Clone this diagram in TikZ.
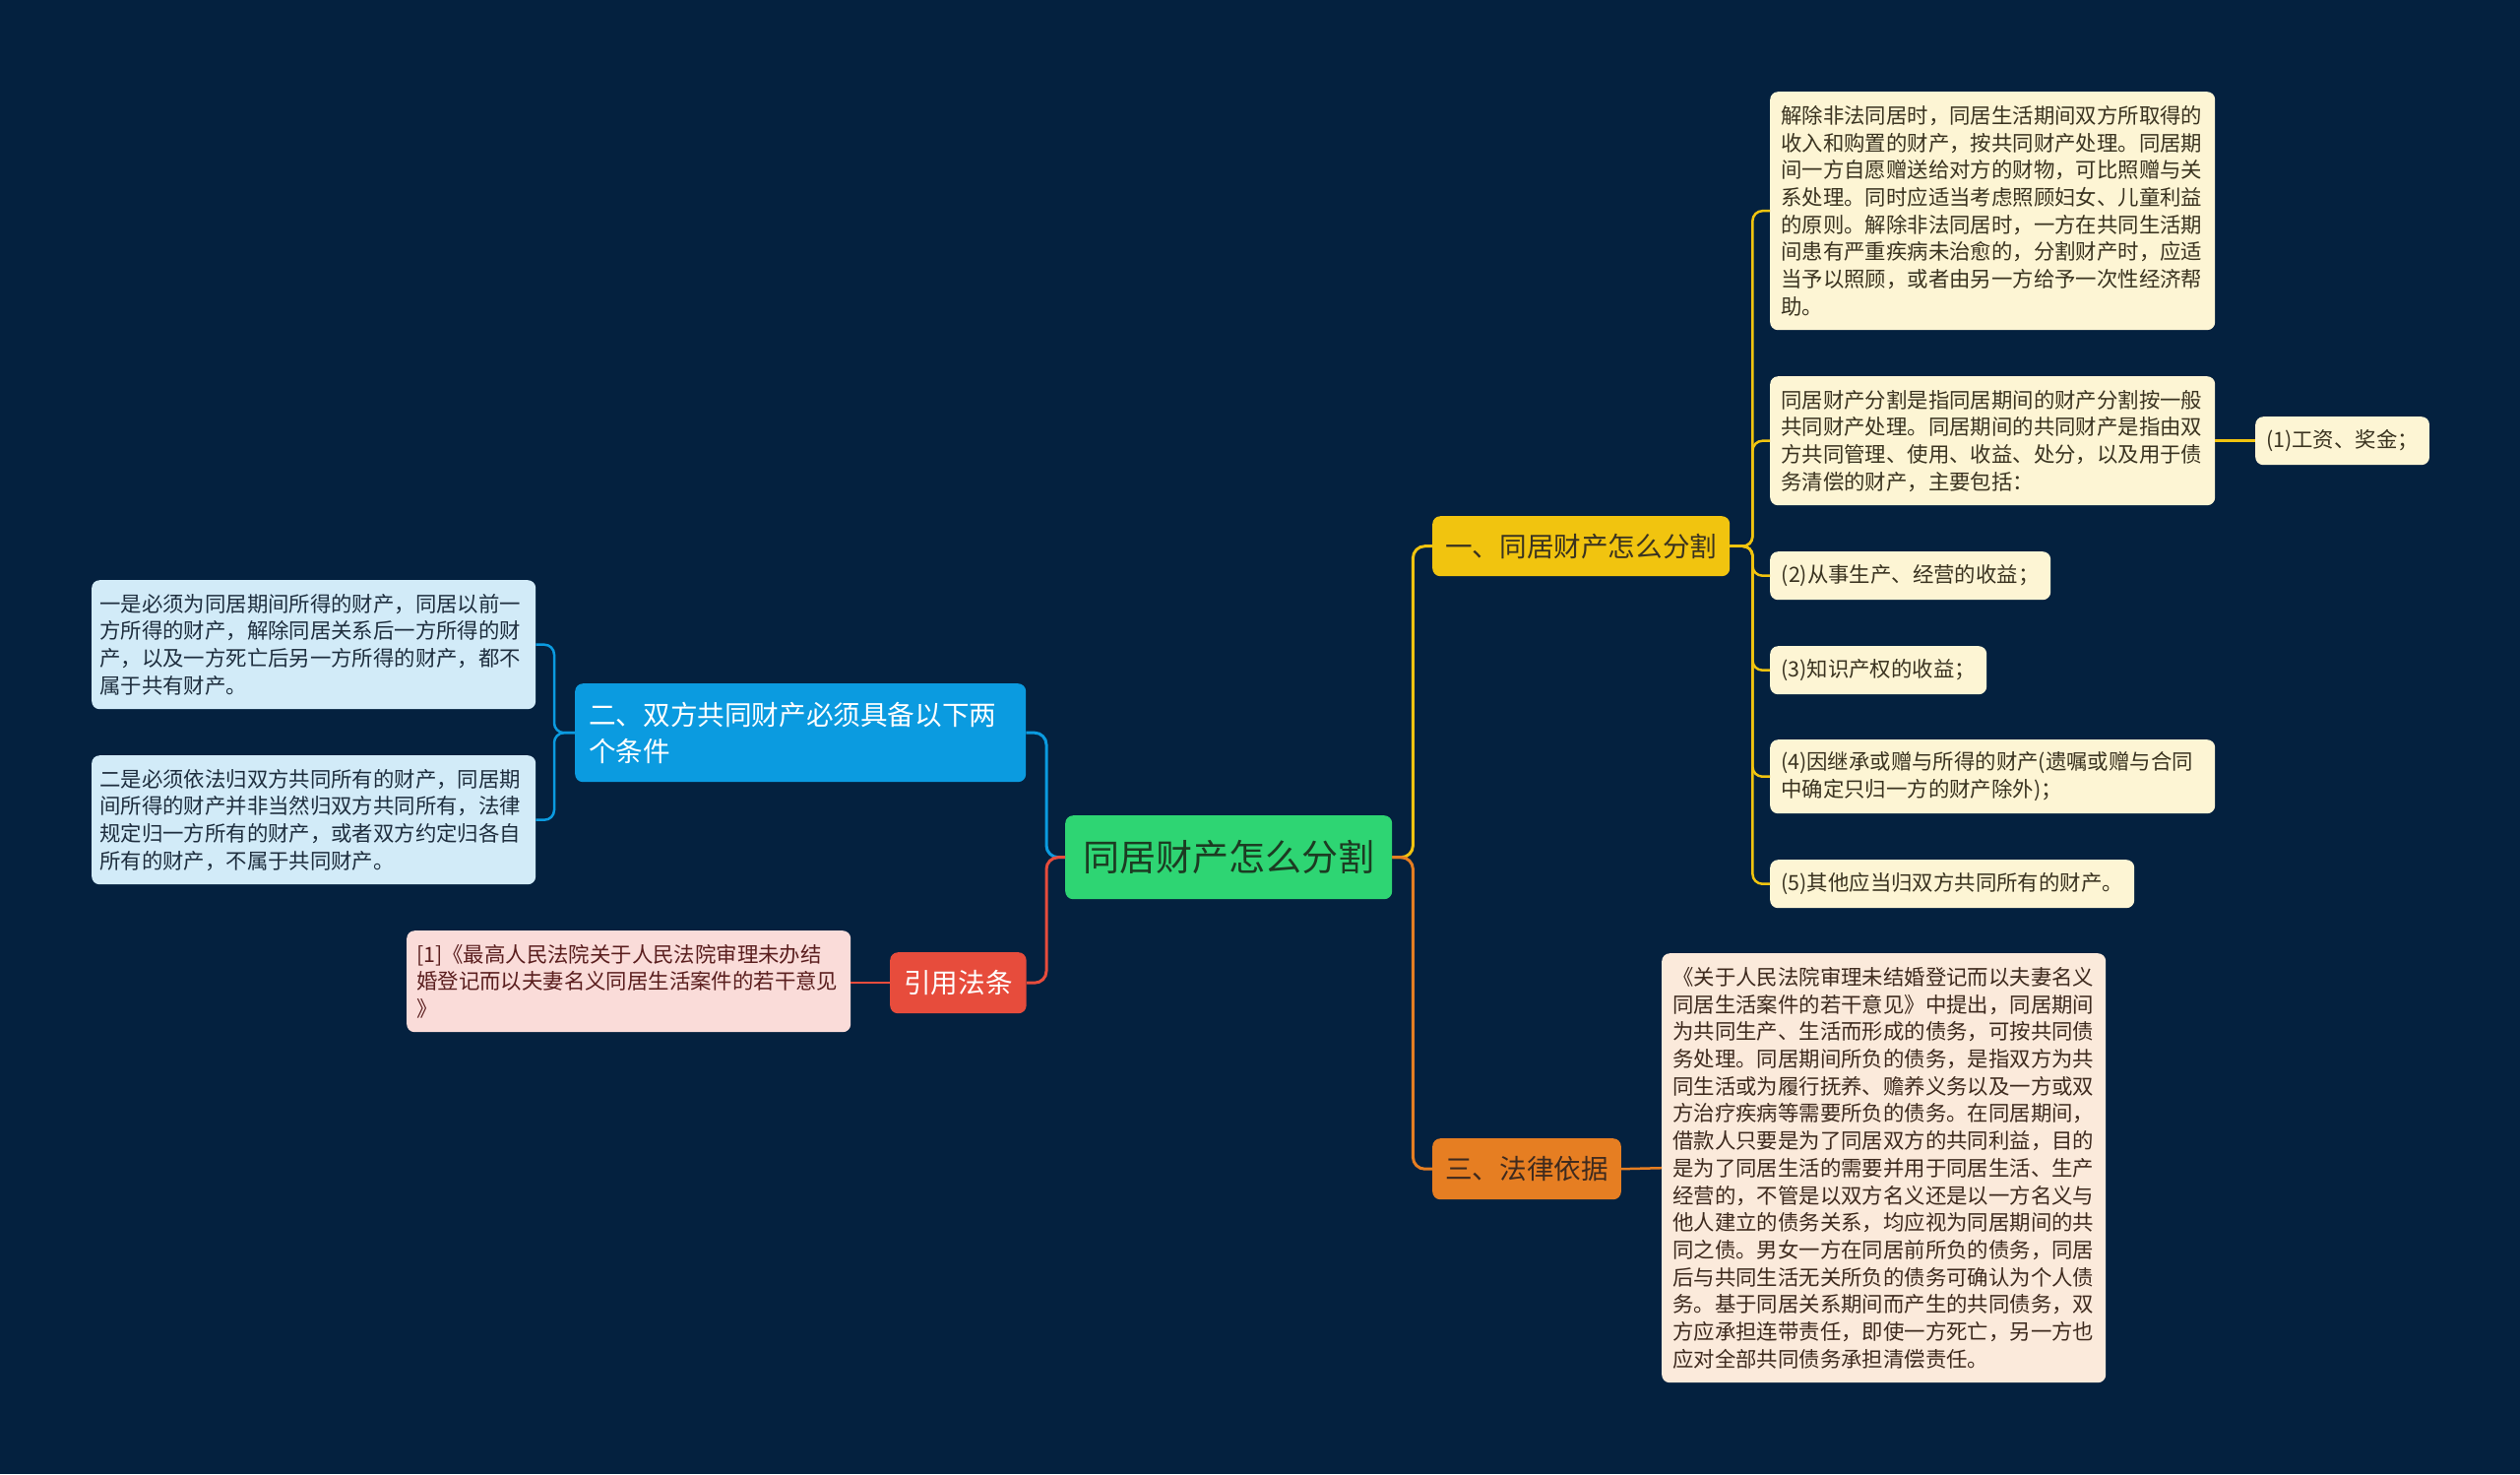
\documentclass[tikz,border=0pt]{standalone}
\usepackage{fontspec}
\setmainfont{Noto Sans CJK SC}
\definecolor{bg}{HTML}{04213F}
\definecolor{rootc}{HTML}{2ED573}
\definecolor{yel}{HTML}{F1C40F}
\definecolor{org}{HTML}{E67E22}
\definecolor{blu}{HTML}{0B9BE0}
\definecolor{redc}{HTML}{E74C3C}
\definecolor{cream}{HTML}{FDF5D4}
\definecolor{peach}{HTML}{FBEADB}
\definecolor{lblue}{HTML}{D2EBF8}
\definecolor{pink}{HTML}{FADCD9}
\definecolor{darktxt}{HTML}{3A3320}
\definecolor{brtxt}{HTML}{3E2A1E}
\definecolor{rtxt}{HTML}{5A1E1E}
\definecolor{btxt}{HTML}{1E2E3E}
\definecolor{roottxt}{HTML}{1C3B22}
\tikzset{
  box/.style={anchor=north west, rounded corners=8pt, inner xsep=11pt, inner ysep=0pt, align=left},
  leaffont/.style={font=\fontsize{21.4}{27.7}\selectfont},
  branchfont/.style={font=\fontsize{27.6}{37}\selectfont},
  conn/.style={line width=3pt, rounded corners=12pt},
  lconn/.style={line width=2.5pt, rounded corners=10pt},
}
\begin{document}
\begin{tikzpicture}[x=1pt,y=-1pt]
\fill[bg] (0,0) rectangle (2560,1497);
\useasboundingbox (0,0) rectangle (2560,1497);

% root
\node[box, fill=rootc, text=roottxt, inner xsep=18pt, minimum width=332pt, minimum height=85pt, font=\fontsize{37}{44}\selectfont] (root) at (1082,828) {同居财产怎么分割};

% branches
\node[box, branchfont, fill=yel, text=darktxt, inner xsep=13pt, minimum width=302pt, minimum height=61pt] (b1) at (1455,524) {一、同居财产怎么分割};
\node[box, branchfont, fill=org, text=brtxt, inner xsep=13pt, minimum width=191pt, minimum height=62pt] (b3) at (1455,1156) {三、法律依据};
\node[box, branchfont, fill=blu, text=white, inner xsep=14pt, text width=430pt, minimum height=100pt] (b2) at (584,694) {二、双方共同财产必须具备以下两\\个条件};
\node[box, branchfont, fill=redc, text=white, inner xsep=14pt, minimum width=138pt, minimum height=62pt] (b4) at (904,967) {引用法条};

% right leaves
\node[box, leaffont, fill=cream, text=darktxt, text width=430pt, minimum height=242pt] (l1) at (1798,93) {解除非法同居时，同居生活期间双方所取得的\\收入和购置的财产，按共同财产处理。同居期\\间一方自愿赠送给对方的财物，可比照赠与关\\系处理。同时应适当考虑照顾妇女、儿童利益\\的原则。解除非法同居时，一方在共同生活期\\间患有严重疾病未治愈的，分割财产时，应适\\当予以照顾，或者由另一方给予一次性经济帮\\助。};
\node[box, leaffont, fill=cream, text=darktxt, text width=430pt, minimum height=131pt] (l2) at (1798,382) {同居财产分割是指同居期间的财产分割按一般\\共同财产处理。同居期间的共同财产是指由双\\方共同管理、使用、收益、处分，以及用于债\\务清偿的财产，主要包括：};
\node[box, leaffont, fill=cream, text=darktxt, minimum width=176pt, minimum height=49pt] (l21) at (2291,423) {(1)工资、奖金；};
\node[box, leaffont, fill=cream, text=darktxt, minimum width=285pt, minimum height=49pt] (l3) at (1798,560) {(2)从事生产、经营的收益；};
\node[box, leaffont, fill=cream, text=darktxt, minimum width=220pt, minimum height=49pt] (l4) at (1798,656) {(3)知识产权的收益；};
\node[box, leaffont, fill=cream, text=darktxt, text width=430pt, minimum height=75pt] (l5) at (1798,751) {(4)因继承或赠与所得的财产(遗嘱或赠与合同\\中确定只归一方的财产除外)；};
\node[box, leaffont, fill=cream, text=darktxt, minimum width=370pt, minimum height=49pt] (l6) at (1798,873) {(5)其他应当归双方共同所有的财产。};

% law
\node[box, leaffont, fill=peach, text=brtxt, text width=429pt, minimum height=436pt] (law) at (1688,968) {《关于人民法院审理未结婚登记而以夫妻名义\\同居生活案件的若干意见》中提出，同居期间\\为共同生产、生活而形成的债务，可按共同债\\务处理。同居期间所负的债务，是指双方为共\\同生活或为履行抚养、赡养义务以及一方或双\\方治疗疾病等需要所负的债务。在同居期间，\\借款人只要是为了同居双方的共同利益，目的\\是为了同居生活的需要并用于同居生活、生产\\经营的，不管是以双方名义还是以一方名义与\\他人建立的债务关系，均应视为同居期间的共\\同之债。男女一方在同居前所负的债务，同居\\后与共同生活无关所负的债务可确认为个人债\\务。基于同居关系期间而产生的共同债务，双\\方应承担连带责任，即使一方死亡，另一方也\\应对全部共同债务承担清偿责任。};

% left leaves
\node[box, leaffont, fill=lblue, text=btxt, inner xsep=8pt, text width=435pt, minimum height=131pt] (ll1) at (93,589) {一是必须为同居期间所得的财产，同居以前一\\方所得的财产，解除同居关系后一方所得的财\\产，以及一方死亡后另一方所得的财产，都不\\属于共有财产。};
\node[box, leaffont, fill=lblue, text=btxt, inner xsep=8pt, text width=435pt, minimum height=131pt] (ll2) at (93,767) {二是必须依法归双方共同所有的财产，同居期\\间所得的财产并非当然归双方共同所有，法律\\规定归一方所有的财产，或者双方约定归各自\\所有的财产，不属于共同财产。};

% citation
\node[box, leaffont, fill=pink, text=rtxt, inner xsep=10pt, text width=431pt, minimum height=103pt] (cit) at (413,945) {[1]《最高人民法院关于人民法院审理未办结\\婚登记而以夫妻名义同居生活案件的若干意见\\》};

% connectors
\draw[conn, yel] (root.east) -- ++(21,0) |- (b1.west);
\draw[conn, org] (root.east) -- ++(21,0) |- (b3.west);
\draw[conn, blu] (root.west) -- ++(-19,0) |- (b2.east);
\draw[conn, redc] (root.west) -- ++(-19,0) |- (b4.east);

\foreach \t in {l1,l2,l3,l4,l5,l6}
  \draw[lconn, yel] (b1.east) -- ++(23,0) |- (\t.west);
\draw[lconn, yel] (l2.east) -- (l21.west);
\draw[lconn, org] (b3.east) -- (law.west);
\draw[lconn, blu] (b2.west) -- ++(-21,0) |- (ll1.east);
\draw[lconn, blu] (b2.west) -- ++(-21,0) |- (ll2.east);
\draw[lconn, redc] (b4.west) -- (b4.west -| cit.east);
\end{tikzpicture}
\end{document}
